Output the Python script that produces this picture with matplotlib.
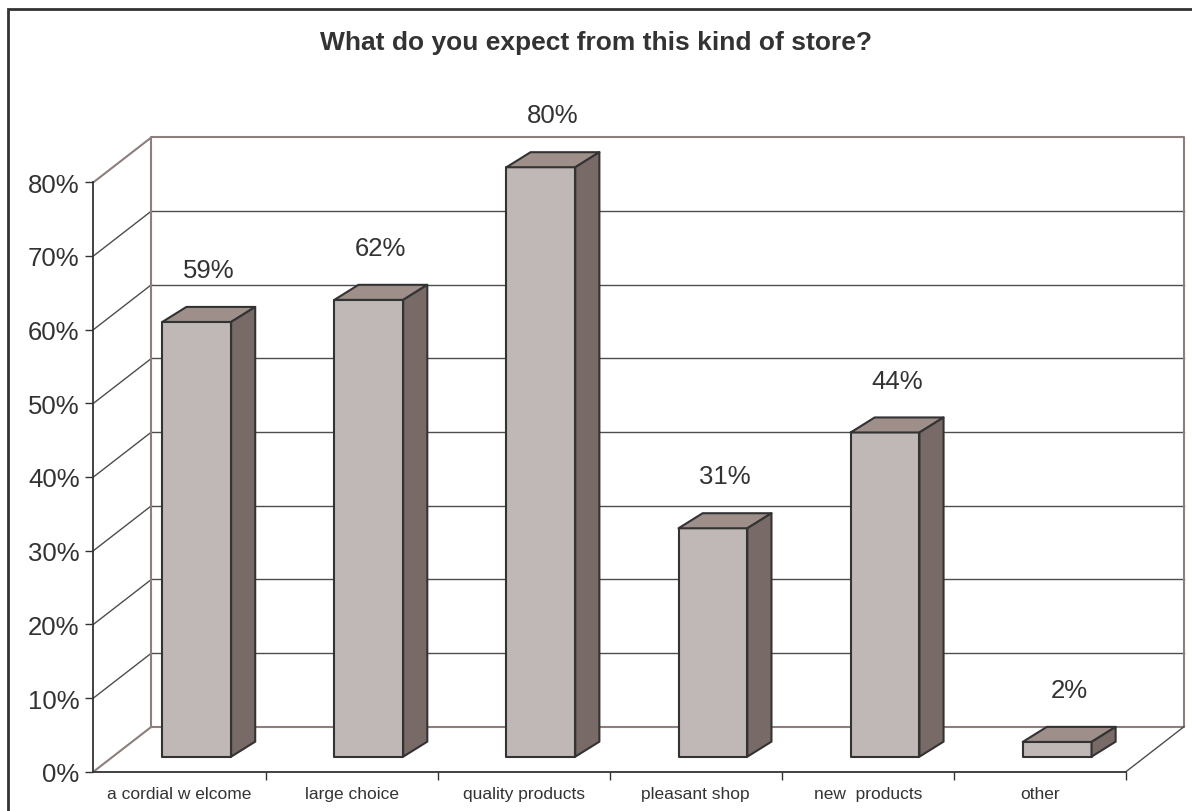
import matplotlib.pyplot as plt
from matplotlib.patches import Polygon, Rectangle

title = 'What do you expect from this kind of store?'
categories = ['a cordial w elcome', 'large choice', 'quality products',
              'pleasant shop', 'new  products', 'other']
values = [59, 62, 80, 31, 44, 2]
y_ticks = [0, 10, 20, 30, 40, 50, 60, 70, 80]

# depth of the wall/floor box: x in category units, y in percent
wall_dx, wall_dy = 0.337, 6.1
# boxes sit part way into the depth
bar_x0, bar_y0 = 0.1, 2.04
bar_dx, bar_dy = 0.14, 2.04
bar_w = 0.4
label_gap = 5.0

FRONT = '#c0b8b6'
TOP = '#9e8f8b'
SIDE = '#786a67'
EDGE = '#333333'
WALL = '#8c7f7c'
GRID = '#4d4d4d'
TEXT = '#333333'

plt.rcParams['font.family'] = ['Liberation Sans', 'DejaVu Sans']

fig = plt.figure(figsize=(11.92, 8.12), dpi=100)
ax = fig.add_axes([0.0784, 0.0484, 0.8662, 0.7259])
n = len(categories)
top = y_ticks[-1]
ax.set_xlim(0, n)
ax.set_ylim(0, top)
ax.patch.set_visible(False)

# gridlines on the back wall and the side wall
for t in y_ticks[1:-1]:
    ax.plot([wall_dx, n + wall_dx], [t + wall_dy, t + wall_dy],
            color=GRID, lw=1, clip_on=False, zorder=1)
    ax.plot([0, wall_dx], [t, t + wall_dy], color=GRID, lw=1, clip_on=False, zorder=1)

# wall and floor outlines
ax.plot([wall_dx, n + wall_dx, n + wall_dx, wall_dx, wall_dx],
        [wall_dy, wall_dy, top + wall_dy, top + wall_dy, wall_dy],
        color=WALL, lw=1.5, clip_on=False, zorder=1)
ax.plot([0, wall_dx], [0, wall_dy], color=WALL, lw=1.5, clip_on=False, zorder=1)
ax.plot([0, wall_dx], [top, top + wall_dy], color=WALL, lw=1.5, clip_on=False, zorder=1)
ax.plot([n, n + wall_dx], [0, wall_dy], color=GRID, lw=1, clip_on=False, zorder=1)

# 3d boxes
for i, v in enumerate(values):
    x0 = i + 0.5 + bar_x0 - bar_w / 2
    x1 = x0 + bar_w
    y0 = bar_y0
    y1 = bar_y0 + v
    front = [(x0, y0), (x1, y0), (x1, y1), (x0, y1)]
    lid = [(x0, y1), (x1, y1), (x1 + bar_dx, y1 + bar_dy), (x0 + bar_dx, y1 + bar_dy)]
    side = [(x1, y0), (x1 + bar_dx, y0 + bar_dy), (x1 + bar_dx, y1 + bar_dy), (x1, y1)]
    for pts, c in [(front, FRONT), (lid, TOP), (side, SIDE)]:
        ax.add_patch(Polygon(pts, closed=True, facecolor=c, edgecolor=EDGE, lw=1.5,
                             joinstyle='round', clip_on=False, zorder=3))
    ax.text(x0 + bar_w / 2 + bar_dx / 2, y1 + bar_dy + label_gap, f'{v}%',
            ha='center', va='center', fontsize=18.5, color=TEXT, zorder=4)

for s in ['top', 'right']:
    ax.spines[s].set_visible(False)
for s in ['left', 'bottom']:
    ax.spines[s].set_color(EDGE)
    ax.spines[s].set_linewidth(1.3)
    ax.spines[s].set_zorder(2)

ax.set_yticks(y_ticks)
ax.set_yticklabels([f'{t}%' for t in y_ticks])
ax.tick_params(axis='y', length=6, width=1, color=EDGE, labelsize=18.5,
               labelcolor=TEXT, pad=4)

ax.set_xticks(range(1, n + 1))
ax.set_xticks([i + 0.5 for i in range(n)], minor=True)
ax.set_xticklabels(categories, minor=True)
ax.tick_params(axis='x', which='major', length=6, width=1, color=EDGE, labelbottom=False)
ax.tick_params(axis='x', which='minor', length=0, pad=10, labelsize=12.5, labelcolor=TEXT)

fig.text(0.5, 1 - 43 / 812, title, ha='center', va='center', fontsize=19,
         fontweight='bold', color=TEXT)

# outer chart frame
fig.add_artist(Rectangle((8 / 1192, -0.05), 1.1, 1.05 - 10 / 812, transform=fig.transFigure,
                         fill=False, edgecolor=EDGE, lw=2))

fig.savefig('out.png', dpi=100)
